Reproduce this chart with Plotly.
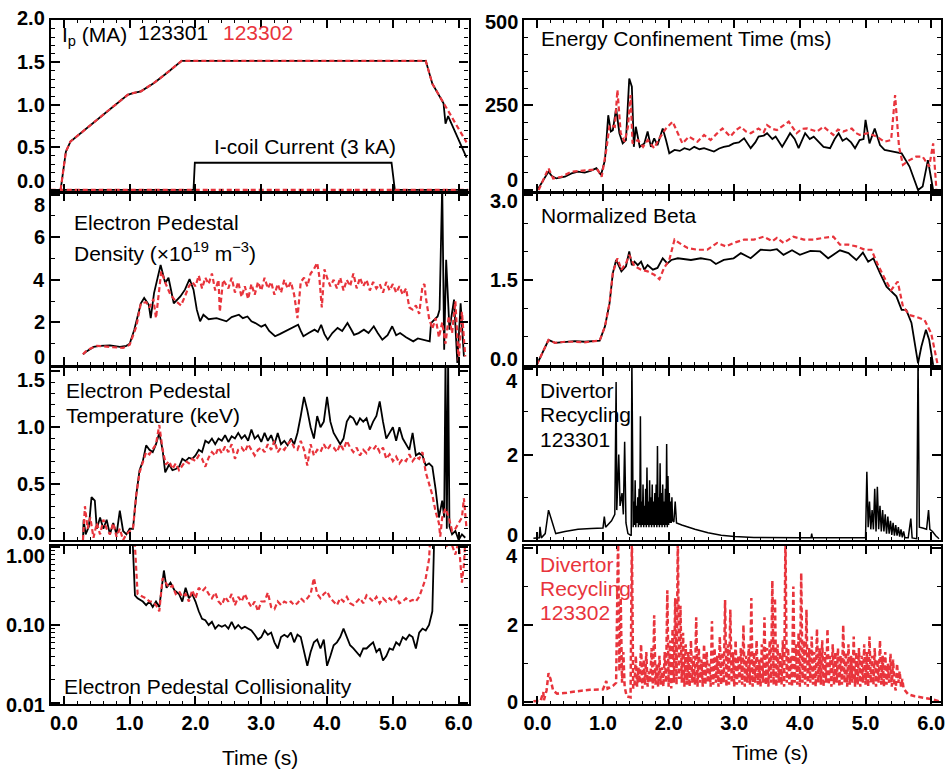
import math
import plotly.graph_objects as go

RED = "#e8343c"
BLK = "#000000"
FONT = "Liberation Sans"

# ---------------- data: (time [s], value) ----------------
IP_123301 = [(-0.05, 0.0), (0.03, 0.45), (0.1, 0.57), (0.3, 0.7), (0.5, 0.82), (0.7, 0.95), (0.97, 1.12),
             (1.05, 1.14), (1.17, 1.16), (1.37, 1.26), (1.57, 1.38), (1.79, 1.52), (2.5, 1.52), (3.5, 1.52),
             (4.5, 1.52), (5.5, 1.52), (5.6, 1.25), (5.77, 1.02), (5.8, 0.78), (5.84, 0.87), (6.12, 0.38)]
IP_123302 = [(-0.05, 0.0), (0.03, 0.45), (0.1, 0.57), (0.3, 0.7), (0.5, 0.82), (0.7, 0.95), (0.97, 1.12),
             (1.05, 1.14), (1.17, 1.16), (1.37, 1.26), (1.57, 1.38), (1.79, 1.52), (2.5, 1.52), (3.5, 1.52),
             (4.5, 1.52), (5.5, 1.52), (5.6, 1.25), (5.77, 1.02), (5.9, 0.85), (6.12, 0.56)]
ICOIL_123301 = [(-0.2, 0.0), (1.97, 0.0), (1.99, 0.32), (4.98, 0.32), (5.03, 0.0), (6.15, 0.0)]
ICOIL_123302 = [(-0.2, 0.0), (6.15, 0.0)]

NE_123301 = [(0.29, 0.5), (0.35, 0.65), (0.45, 0.85), (0.55, 0.9), (0.7, 0.92), (0.85, 0.85), (0.95, 0.9),
             (1.0, 1.0), (1.07, 1.66), (1.17, 2.9), (1.22, 3.15), (1.29, 2.83), (1.32, 2.2), (1.37, 3.38),
             (1.47, 4.7), (1.54, 3.85), (1.59, 4.1), (1.67, 2.9), (1.77, 3.22), (1.84, 3.54), (1.91, 4.04),
             (1.97, 3.54), (2.02, 2.6), (2.07, 2.05), (2.12, 2.36), (2.2, 2.15), (2.32, 2.2), (2.4, 2.1),
             (2.47, 2.05), (2.55, 2.25), (2.66, 2.36), (2.72, 2.2), (2.79, 2.28), (2.85, 2.05), (2.91, 1.97),
             (3.0, 1.8), (3.06, 1.89), (3.12, 1.6), (3.21, 1.35), (3.28, 1.45), (3.36, 1.58), (3.45, 1.7),
             (3.56, 1.89), (3.6, 1.6), (3.64, 1.35), (3.72, 1.5), (3.81, 1.66), (3.86, 1.55), (3.91, 1.89),
             (3.96, 1.45), (4.01, 1.19), (4.08, 1.5), (4.16, 1.74), (4.23, 1.6), (4.31, 1.97), (4.36, 1.7),
             (4.41, 1.42), (4.48, 1.5), (4.56, 1.66), (4.63, 1.5), (4.71, 1.82), (4.77, 1.5), (4.84, 1.19),
             (4.92, 1.4), (4.99, 1.82), (5.05, 1.4), (5.11, 1.5), (5.2, 1.3), (5.31, 1.11), (5.38, 1.25),
             (5.46, 1.19), (5.56, 1.11), (5.58, 1.97), (5.68, 2.28), (5.71, 2.6), (5.75, 8.5), (5.78, 0.72),
             (5.81, 4.94), (5.86, 1.66), (5.93, 3.07), (5.98, 0.1), (6.03, 2.9), (6.08, 0.4)]
NE_123302 = [(0.29, 0.5), (0.35, 0.7), (0.5, 0.9), (0.7, 0.85), (0.9, 0.8), (1.0, 0.95), (1.1, 1.8),
             (1.17, 2.9), (1.25, 2.95), (1.3, 2.7), (1.36, 3.1), (1.4, 2.2), (1.44, 3.2), (1.48, 4.4),
             (1.55, 3.8), (1.62, 3.3), (1.7, 3.0), (1.78, 2.8), (1.85, 3.3), (1.9, 3.7), (1.95, 3.9),
             (2.0, 3.7), (2.05, 4.2), (2.1, 3.6), (2.15, 4.1), (2.2, 3.8), (2.25, 4.3), (2.3, 3.5),
             (2.35, 4.0), (2.37, 2.5), (2.42, 4.0), (2.5, 3.6), (2.55, 4.1), (2.6, 3.4), (2.65, 3.9),
             (2.7, 3.2), (2.75, 3.7), (2.8, 3.1), (2.85, 3.8), (2.9, 3.3), (2.95, 3.9), (3.0, 3.5),
             (3.05, 4.1), (3.1, 3.6), (3.15, 3.9), (3.2, 3.3), (3.25, 3.8), (3.3, 3.4), (3.35, 4.0),
             (3.4, 3.6), (3.45, 3.9), (3.5, 3.3), (3.55, 2.2), (3.6, 3.9), (3.65, 4.1), (3.7, 3.7),
             (3.75, 4.3), (3.8, 4.5), (3.85, 4.8), (3.88, 4.2), (3.92, 2.7), (3.96, 4.5), (4.0, 4.1),
             (4.05, 3.7), (4.1, 4.0), (4.15, 3.6), (4.2, 4.1), (4.25, 3.5), (4.3, 4.0), (4.35, 3.7),
             (4.4, 4.3), (4.45, 3.6), (4.5, 4.1), (4.55, 3.7), (4.6, 4.0), (4.65, 3.5), (4.7, 3.9),
             (4.75, 3.6), (4.8, 3.8), (4.85, 3.4), (4.9, 3.9), (4.95, 3.5), (5.0, 3.8), (5.05, 3.4),
             (5.1, 3.7), (5.15, 3.3), (5.2, 3.6), (5.25, 2.7), (5.3, 2.6), (5.35, 2.8), (5.4, 2.4),
             (5.45, 3.7), (5.48, 3.8), (5.5, 3.2), (5.55, 2.2), (5.6, 1.7), (5.65, 2.2), (5.7, 1.3),
             (5.75, 2.0), (5.8, 1.0), (5.85, 2.3), (5.9, 1.5), (5.95, 3.0), (6.0, 0.2), (6.05, 2.5),
             (6.1, 0.4)]

TE_123301 = [(0.29, 0.0), (0.3, 0.18), (0.33, 0.05), (0.38, 0.12), (0.42, 0.38), (0.47, 0.35), (0.5, 0.1),
             (0.55, 0.2), (0.6, 0.1), (0.65, 0.18), (0.7, 0.05), (0.75, 0.15), (0.8, 0.05), (0.85, 0.26),
             (0.9, 0.08), (0.95, 0.05), (1.0, 0.1), (1.05, 0.1), (1.1, 0.4), (1.15, 0.62), (1.2, 0.7),
             (1.25, 0.84), (1.3, 0.8), (1.35, 0.78), (1.4, 0.85), (1.45, 0.95), (1.5, 0.8), (1.54, 0.6),
             (1.6, 0.67), (1.65, 0.62), (1.7, 0.63), (1.75, 0.65), (1.8, 0.72), (1.85, 0.7), (1.9, 0.73),
             (1.95, 0.72), (2.0, 0.75), (2.05, 0.8), (2.1, 0.78), (2.15, 0.88), (2.2, 0.86), (2.25, 0.9),
             (2.3, 0.85), (2.35, 0.9), (2.4, 0.88), (2.45, 0.93), (2.5, 0.87), (2.55, 0.92), (2.6, 0.9),
             (2.65, 0.95), (2.7, 0.9), (2.75, 0.93), (2.8, 0.88), (2.85, 0.98), (2.9, 0.9), (2.95, 0.93),
             (3.0, 0.87), (3.05, 0.95), (3.1, 0.88), (3.15, 0.93), (3.2, 0.85), (3.25, 0.95), (3.3, 0.85),
             (3.35, 0.88), (3.4, 0.84), (3.45, 0.9), (3.5, 0.85), (3.55, 0.95), (3.6, 1.1), (3.65, 1.27),
             (3.7, 1.15), (3.75, 1.0), (3.8, 0.9), (3.85, 1.1), (3.9, 1.0), (3.95, 1.05), (4.0, 1.27),
             (4.05, 1.05), (4.1, 0.95), (4.15, 0.9), (4.2, 0.85), (4.25, 0.9), (4.3, 1.05), (4.35, 1.1),
             (4.4, 1.08), (4.45, 1.02), (4.5, 1.08), (4.55, 1.05), (4.6, 1.08), (4.65, 0.98), (4.7, 1.05),
             (4.75, 1.1), (4.8, 1.23), (4.85, 1.05), (4.9, 0.9), (4.95, 0.95), (5.0, 1.0), (5.05, 0.88),
             (5.1, 1.0), (5.15, 0.9), (5.2, 0.85), (5.25, 0.8), (5.3, 0.95), (5.35, 0.75), (5.4, 0.77),
             (5.45, 0.75), (5.5, 0.66), (5.55, 0.68), (5.6, 0.65), (5.65, 0.45), (5.7, 0.2), (5.75, 0.35),
             (5.78, 0.2), (5.8, 1.6), (5.82, 0.1), (5.84, 1.6), (5.86, 0.12), (5.9, 0.05), (5.95, 0.08),
             (6.0, 0.0), (6.05, 0.05), (6.1, 0.02)]
TE_123302 = [(0.29, 0.0), (0.32, 0.3), (0.36, 0.1), (0.4, 0.2), (0.45, 0.02), (0.5, 0.15), (0.55, 0.05),
             (0.6, 0.18), (0.65, 0.1), (0.7, 0.05), (0.75, 0.15), (0.8, 0.03), (0.85, 0.1), (0.9, 0.0),
             (0.95, 0.05), (1.0, 0.08), (1.05, 0.1), (1.1, 0.4), (1.15, 0.6), (1.2, 0.7), (1.25, 0.78),
             (1.3, 0.76), (1.35, 0.8), (1.4, 0.85), (1.45, 1.02), (1.5, 0.8), (1.55, 0.67), (1.6, 0.7),
             (1.65, 0.63), (1.7, 0.68), (1.75, 0.62), (1.8, 0.66), (1.85, 0.7), (1.9, 0.68), (1.95, 0.72),
             (2.0, 0.7), (2.05, 0.75), (2.1, 0.72), (2.15, 0.65), (2.2, 0.73), (2.25, 0.78), (2.3, 0.75),
             (2.35, 0.82), (2.4, 0.77), (2.45, 0.83), (2.5, 0.78), (2.55, 0.85), (2.6, 0.72), (2.65, 0.8),
             (2.7, 0.82), (2.75, 0.78), (2.8, 0.85), (2.85, 0.8), (2.9, 0.75), (2.95, 0.8), (3.0, 0.82),
             (3.05, 0.78), (3.1, 0.85), (3.15, 0.8), (3.2, 0.88), (3.25, 0.78), (3.3, 0.82), (3.35, 0.8),
             (3.4, 0.85), (3.45, 0.88), (3.5, 0.82), (3.55, 0.8), (3.6, 0.88), (3.65, 0.8), (3.7, 0.66),
             (3.75, 0.85), (3.8, 0.75), (3.85, 0.8), (3.9, 0.78), (3.95, 0.85), (4.0, 0.8), (4.05, 0.84),
             (4.1, 0.82), (4.15, 0.78), (4.2, 0.85), (4.25, 0.8), (4.3, 0.88), (4.35, 0.82), (4.4, 0.78),
             (4.45, 0.82), (4.5, 0.75), (4.55, 0.8), (4.6, 0.77), (4.65, 0.82), (4.7, 0.8), (4.75, 0.84),
             (4.8, 0.78), (4.85, 0.82), (4.9, 0.72), (4.95, 0.76), (5.0, 0.7), (5.05, 0.74), (5.1, 0.68),
             (5.15, 0.72), (5.2, 0.7), (5.25, 0.76), (5.3, 0.7), (5.35, 0.74), (5.4, 0.72), (5.45, 0.78),
             (5.5, 0.6), (5.55, 0.5), (5.6, 0.4), (5.65, 0.25), (5.7, 0.15), (5.72, 0.03), (5.75, 0.2),
             (5.8, 0.28), (5.85, 0.2), (5.9, 0.08), (5.95, 0.1), (6.0, 0.15), (6.05, 0.2), (6.08, 0.37),
             (6.12, 0.1)]

NU_123301 = [(1.0, 3.0), (1.04, 1.5), (1.08, 0.24), (1.12, 0.22), (1.2, 0.2), (1.25, 0.18), (1.3, 0.2),
             (1.35, 0.17), (1.4, 0.2), (1.45, 0.17), (1.52, 0.5), (1.56, 0.3), (1.62, 0.35), (1.68, 0.28),
             (1.75, 0.25), (1.8, 0.2), (1.85, 0.3), (1.9, 0.22), (1.95, 0.25), (2.0, 0.2), (2.05, 0.15),
             (2.1, 0.12), (2.15, 0.115), (2.2, 0.1), (2.25, 0.11), (2.3, 0.09), (2.35, 0.1), (2.4, 0.095),
             (2.45, 0.1), (2.5, 0.09), (2.55, 0.11), (2.6, 0.09), (2.65, 0.1), (2.7, 0.09), (2.75, 0.095),
             (2.8, 0.09), (2.85, 0.085), (2.9, 0.075), (2.95, 0.065), (3.0, 0.07), (3.05, 0.085),
             (3.1, 0.075), (3.15, 0.08), (3.2, 0.06), (3.25, 0.05), (3.3, 0.07), (3.35, 0.075), (3.4, 0.07),
             (3.45, 0.08), (3.5, 0.06), (3.55, 0.075), (3.6, 0.07), (3.65, 0.045), (3.7, 0.03),
             (3.75, 0.045), (3.8, 0.06), (3.85, 0.065), (3.9, 0.05), (3.95, 0.065), (4.0, 0.03),
             (4.05, 0.04), (4.1, 0.055), (4.15, 0.06), (4.2, 0.07), (4.25, 0.09), (4.3, 0.07),
             (4.35, 0.055), (4.4, 0.05), (4.45, 0.045), (4.5, 0.04), (4.55, 0.05), (4.6, 0.05),
             (4.65, 0.055), (4.7, 0.06), (4.75, 0.045), (4.8, 0.05), (4.85, 0.035), (4.9, 0.04),
             (4.95, 0.05), (5.0, 0.048), (5.05, 0.06), (5.1, 0.055), (5.15, 0.07), (5.2, 0.065),
             (5.25, 0.075), (5.3, 0.07), (5.35, 0.05), (5.4, 0.08), (5.45, 0.09), (5.5, 0.085),
             (5.55, 0.1), (5.6, 0.15), (5.63, 1.5), (5.66, 3.0), (6.15, 3.0)]
NU_123302 = [(1.05, 3.0), (1.08, 1.0), (1.12, 0.25), (1.2, 0.23), (1.25, 0.22), (1.3, 0.2), (1.35, 0.2),
             (1.4, 0.18), (1.45, 0.15), (1.5, 0.4), (1.55, 0.35), (1.6, 0.3), (1.65, 0.32), (1.7, 0.25),
             (1.75, 0.27), (1.8, 0.23), (1.85, 0.25), (1.9, 0.2), (1.95, 0.28), (2.0, 0.22), (2.05, 0.3),
             (2.1, 0.27), (2.15, 0.3), (2.2, 0.25), (2.25, 0.22), (2.3, 0.26), (2.35, 0.2), (2.4, 0.18),
             (2.45, 0.23), (2.5, 0.2), (2.55, 0.25), (2.6, 0.18), (2.65, 0.23), (2.7, 0.2), (2.75, 0.25),
             (2.8, 0.2), (2.85, 0.17), (2.9, 0.2), (2.95, 0.15), (3.0, 0.2), (3.05, 0.2), (3.1, 0.26),
             (3.15, 0.17), (3.2, 0.16), (3.25, 0.2), (3.3, 0.18), (3.35, 0.2), (3.4, 0.19), (3.45, 0.2),
             (3.5, 0.18), (3.55, 0.19), (3.6, 0.22), (3.65, 0.2), (3.7, 0.22), (3.75, 0.25), (3.8, 0.4),
             (3.85, 0.25), (3.9, 0.22), (3.95, 0.25), (4.0, 0.27), (4.05, 0.22), (4.1, 0.2), (4.15, 0.18),
             (4.2, 0.22), (4.25, 0.2), (4.3, 0.23), (4.35, 0.19), (4.4, 0.18), (4.45, 0.2), (4.5, 0.22),
             (4.55, 0.19), (4.6, 0.24), (4.65, 0.22), (4.7, 0.2), (4.75, 0.23), (4.8, 0.19), (4.85, 0.22),
             (4.9, 0.2), (4.95, 0.22), (5.0, 0.2), (5.05, 0.23), (5.1, 0.19), (5.15, 0.2), (5.2, 0.22),
             (5.25, 0.2), (5.3, 0.21), (5.35, 0.2), (5.4, 0.23), (5.45, 0.3), (5.5, 0.4), (5.55, 0.7),
             (5.58, 2.0), (5.65, 1.2), (5.7, 1.05), (5.75, 1.1), (5.8, 1.0), (5.85, 1.1), (5.9, 1.05),
             (5.95, 0.8), (6.0, 1.2), (6.05, 0.35), (6.08, 0.6), (6.1, 1.2)]

TAUE_123301 = [(0.0, 0), (0.17, 54), (0.22, 41), (0.29, 34), (0.42, 39), (0.52, 49), (0.62, 54), (0.72, 51),
               (0.82, 57), (0.9, 64), (0.97, 44), (1.03, 88), (1.08, 220), (1.12, 172), (1.15, 176),
               (1.2, 240), (1.25, 167), (1.3, 137), (1.35, 147), (1.4, 328), (1.44, 304), (1.47, 127),
               (1.5, 186), (1.56, 127), (1.63, 137), (1.68, 172), (1.73, 127), (1.78, 152), (1.83, 132),
               (1.91, 181), (1.96, 147), (2.01, 108), (2.09, 118), (2.17, 115), (2.24, 123), (2.32, 118),
               (2.39, 127), (2.47, 120), (2.54, 123), (2.62, 118), (2.69, 113), (2.77, 122), (2.84, 127),
               (2.92, 130), (2.99, 137), (3.07, 140), (3.15, 152), (3.25, 123), (3.32, 140), (3.37, 157),
               (3.45, 160), (3.5, 167), (3.58, 150), (3.63, 157), (3.73, 127), (3.8, 150), (3.85, 167),
               (3.92, 150), (3.98, 123), (4.08, 167), (4.15, 150), (4.21, 157), (4.3, 140), (4.36, 127),
               (4.46, 123), (4.53, 150), (4.59, 167), (4.65, 145), (4.71, 152), (4.78, 140), (4.84, 123),
               (4.91, 147), (4.97, 150), (5.0, 206), (5.06, 137), (5.14, 181), (5.22, 132), (5.29, 118),
               (5.42, 113), (5.55, 108), (5.67, 69), (5.8, 0), (5.87, 10), (5.95, 88), (6.03, 0)]
TAUE_123302 = [(0.02, 0), (0.17, 64), (0.24, 34), (0.37, 39), (0.52, 54), (0.67, 57), (0.82, 59),
               (0.92, 59), (0.98, 39), (1.05, 118), (1.1, 191), (1.18, 186), (1.22, 294), (1.27, 167),
               (1.33, 142), (1.38, 186), (1.42, 279), (1.45, 137), (1.53, 147), (1.61, 127), (1.68, 147),
               (1.78, 123), (1.86, 152), (1.96, 181), (2.06, 201), (2.14, 167), (2.21, 137), (2.31, 157),
               (2.44, 142), (2.54, 162), (2.64, 147), (2.73, 165), (2.82, 181), (2.94, 157), (3.02, 175),
               (3.1, 186), (3.18, 172), (3.25, 167), (3.37, 181), (3.45, 170), (3.5, 191), (3.58, 180),
               (3.65, 176), (3.75, 190), (3.83, 201), (3.95, 167), (4.03, 180), (4.11, 181), (4.26, 172),
               (4.36, 186), (4.45, 170), (4.51, 162), (4.58, 178), (4.66, 172), (4.79, 181), (4.85, 168),
               (4.91, 162), (5.04, 167), (5.17, 157), (5.29, 142), (5.39, 147), (5.45, 279), (5.51, 127),
               (5.57, 74), (5.67, 88), (5.77, 98), (5.87, 98), (5.97, 69), (6.03, 137), (6.08, 0)]

BETAN_123301 = [(-0.01, 0.0), (0.17, 0.44), (0.27, 0.39), (0.42, 0.4), (0.57, 0.42), (0.72, 0.41),
                (0.95, 0.43), (1.03, 0.68), (1.1, 1.09), (1.15, 1.62), (1.2, 1.85), (1.28, 1.65),
                (1.35, 1.74), (1.4, 2.0), (1.44, 1.76), (1.48, 1.82), (1.53, 1.76), (1.58, 1.82),
                (1.63, 1.68), (1.68, 1.76), (1.76, 1.68), (1.83, 1.71), (1.91, 1.88), (1.98, 1.79),
                (2.04, 1.85), (2.14, 1.88), (2.24, 1.86), (2.34, 1.85), (2.49, 1.88), (2.64, 1.85),
                (2.72, 1.78), (2.84, 1.85), (2.99, 1.88), (3.1, 1.97), (3.25, 1.88), (3.4, 2.03),
                (3.55, 2.02), (3.65, 2.04), (3.75, 1.94), (3.88, 2.02), (4.0, 1.94), (4.16, 2.01),
                (4.31, 2.0), (4.43, 1.88), (4.61, 2.02), (4.74, 1.97), (4.86, 1.85), (4.96, 1.98),
                (5.04, 1.82), (5.12, 1.88), (5.22, 1.62), (5.32, 1.38), (5.47, 1.21), (5.55, 0.97),
                (5.62, 0.97), (5.7, 0.74), (5.8, 0.03), (5.85, 0.32), (5.92, 0.62), (5.97, 0.44), (6.03, 0.0)]
BETAN_123302 = [(-0.01, 0.0), (0.17, 0.44), (0.27, 0.39), (0.42, 0.41), (0.57, 0.41), (0.72, 0.4),
                (0.95, 0.43), (1.03, 0.68), (1.1, 1.09), (1.15, 1.62), (1.22, 1.88), (1.28, 1.68),
                (1.35, 1.79), (1.4, 1.94), (1.48, 1.74), (1.58, 1.68), (1.68, 1.65), (1.78, 1.59),
                (1.86, 1.51), (1.93, 1.71), (2.01, 1.85), (2.09, 2.21), (2.16, 2.15), (2.29, 2.06),
                (2.44, 2.03), (2.59, 2.03), (2.74, 2.15), (2.87, 2.09), (2.99, 2.15), (3.15, 2.21),
                (3.3, 2.21), (3.45, 2.26), (3.58, 2.18), (3.65, 2.24), (3.75, 2.15), (3.9, 2.26),
                (4.06, 2.21), (4.21, 2.21), (4.36, 2.24), (4.51, 2.26), (4.61, 2.12), (4.74, 2.12),
                (4.86, 2.09), (4.99, 2.03), (5.09, 2.03), (5.19, 1.76), (5.29, 1.53), (5.39, 1.32),
                (5.49, 1.47), (5.57, 1.03), (5.67, 0.88), (5.77, 0.85), (5.9, 0.79), (6.0, 0.56), (6.1, 0.0)]

# divertor recycling 123301: slow parts as (t, v); ELM bursts as evenly sampled values (t0, dt, values)
RECYC_123301_A = [(-0.06, 0.04), (0.03, 0.05), (0.04, 0.31), (0.06, 0.05), (0.12, 0.15), (0.17, 0.7),
                  (0.22, 0.45), (0.28, 0.15), (0.42, 0.2), (0.62, 0.25), (0.82, 0.27), (1.0, 0.28),
                  (1.02, 0.55), (1.04, 0.3), (1.13, 0.45), (1.18, 0.6), (1.2, 3.7), (1.21, 0.7),
                  (1.24, 2.0), (1.26, 0.8), (1.29, 1.1), (1.31, 0.6), (1.33, 2.3), (1.35, 0.4),
                  (1.38, 0.15), (1.43, 0.1), (1.44, 4.3), (1.45, 0.3)]
RECYC_123301_BURST1_T0, RECYC_123301_BURST1_DT = 1.46, 0.01
RECYC_123301_BURST1 = [0.3, 0.9, 0.35, 1.4, 0.3, 0.8, 0.4, 1.0, 0.3, 1.2,
                       0.35, 2.9, 0.3, 0.9, 0.35, 1.3, 0.3, 0.8, 0.35, 1.2,
                       0.3, 1.7, 0.35, 0.9, 0.3, 1.4, 0.35, 1.0, 0.3, 1.3,
                       0.35, 0.9, 0.3, 1.1, 0.35, 1.3, 0.3, 2.2, 0.35, 1.0,
                       0.3, 1.8, 0.35, 1.1, 0.3, 1.3, 0.35, 0.9, 0.3, 1.2,
                       0.35, 2.25, 0.3, 1.5, 0.35, 1.1, 0.4, 0.9, 0.4, 1.0,
                       0.45]
RECYC_123301_B = [(2.08, 0.42), (2.1, 0.9), (2.12, 0.4), (2.2, 0.35), (2.4, 0.25), (2.6, 0.17), (2.8, 0.11),
                  (3.0, 0.08), (3.3, 0.06), (3.6, 0.05), (4.0, 0.05), (4.17, 0.05), (4.18, 0.15),
                  (4.19, 0.05), (4.5, 0.05), (5.0, 0.05)]
RECYC_123301_BURST2_T0, RECYC_123301_BURST2_DT = 5.02, 0.02
RECYC_123301_BURST2 = [1.6, 0.3, 0.9, 0.25, 0.7, 0.25, 1.2, 0.2, 1.25, 0.25, 0.8, 0.2, 0.7, 0.2, 0.6, 0.15,
                       0.55, 0.15, 0.45, 0.12, 0.4, 0.1, 0.35, 0.1, 0.3, 0.08, 0.25, 0.06, 0.2, 0.05]
RECYC_123301_C = [(5.65, 0.05), (5.69, 0.5), (5.71, 0.05), (5.78, 0.03), (5.8, 4.3), (5.82, 0.3),
                  (5.87, 0.28), (5.93, 0.25), (5.96, 0.7), (5.98, 0.25), (6.02, 0.2), (6.07, 0.1), (6.12, 0.03)]

RECYC_123302_A = [(-0.06, 0.02), (0.05, 0.03), (0.09, 0.26), (0.1, 0.05), (0.14, 0.3), (0.17, 0.75),
                  (0.2, 0.6), (0.24, 0.3), (0.3, 0.22), (0.45, 0.24), (0.6, 0.28), (0.8, 0.32), (1.0, 0.33),
                  (1.05, 0.55), (1.07, 0.35), (1.15, 0.42), (1.2, 0.5), (1.23, 4.3), (1.25, 0.8),
                  (1.27, 2.7), (1.29, 0.5), (1.31, 1.3), (1.33, 0.4), (1.36, 0.15), (1.42, 0.12),
                  (1.44, 4.3), (1.46, 0.35)]
RECYC_123302_BURST_T0, RECYC_123302_BURST_DT = 1.48, 0.02
RECYC_123302_BURST = [
    0.45, 1.2, 0.4, 0.9, 0.5, 1.5, 0.35, 1.1, 0.45, 1.3,
    0.4, 0.8, 0.5, 1.4, 0.35, 2.25, 0.45, 1.0, 0.4, 1.2,
    0.45, 0.9, 0.4, 1.3, 0.5, 2.9, 0.4, 1.6, 0.35, 1.9,
    0.5, 2.7, 0.45, 4.3, 0.6, 2.5, 0.5, 1.8, 0.4, 1.5,
    0.45, 1.3, 0.4, 1.6, 0.5, 1.2, 0.45, 2.2, 0.4, 1.4,
    0.5, 1.1, 0.4, 1.5, 0.45, 1.3, 0.5, 1.0, 0.4, 2.1,
    0.45, 1.4, 0.5, 1.2, 0.4, 1.7, 0.45, 1.3, 0.5, 2.65,
    0.4, 1.5, 0.45, 2.4, 0.5, 1.3, 0.4, 1.6, 0.45, 1.2,
    0.5, 1.4, 0.45, 2.0, 0.4, 1.2, 0.5, 1.5, 0.45, 2.7,
    0.4, 1.3, 0.5, 1.6, 0.45, 1.1, 0.4, 1.5, 0.5, 2.2,
    0.45, 1.4, 0.4, 1.6, 0.5, 3.15, 0.45, 2.7, 0.4, 1.5,
    0.5, 1.3, 0.45, 1.6, 0.4, 4.3, 0.5, 1.4, 0.45, 1.2,
    0.4, 3.0, 0.5, 1.5, 0.45, 1.8, 0.4, 3.35, 0.5, 1.6,
    0.45, 2.4, 0.4, 1.4, 0.5, 1.7, 0.45, 1.3, 0.4, 1.9,
    0.5, 1.4, 0.45, 1.6, 0.4, 1.3, 0.5, 1.9, 0.45, 1.2,
    0.4, 1.5, 0.45, 1.3, 0.5, 1.4, 0.4, 1.2, 0.45, 2.0,
    0.5, 1.3, 0.4, 1.5, 0.45, 1.2, 0.5, 1.7, 0.4, 1.3,
    0.45, 1.4, 0.4, 1.2, 0.5, 1.5, 0.45, 1.3, 0.4, 1.7,
    0.5, 1.2, 0.45, 1.4, 0.4, 1.1, 0.5, 1.6, 0.45, 1.2,
    0.4, 1.3, 0.45, 1.0, 0.5, 1.25, 0.4, 1.1, 0.45]
RECYC_123302_B = [(5.46, 0.3), (5.48, 1.0), (5.5, 0.5), (5.52, 0.8), (5.54, 0.4), (5.56, 0.6), (5.58, 0.35),
                  (5.6, 0.3), (5.65, 0.2), (5.75, 0.15), (5.9, 0.1), (6.0, 0.08), (6.12, 0.02)]

X_TICKS = [0, 1, 2, 3, 4, 5, 6]
X_TICK_TEXT = ["0.0", "1.0", "2.0", "3.0", "4.0", "5.0", "6.0"]


def unzip(pairs):
    return [p[0] for p in pairs], [p[1] for p in pairs]


def burst(t0, dt, vals):
    return [(round(t0 + i * dt, 4), v) for i, v in enumerate(vals)]


RECYC_123301 = (RECYC_123301_A
                + burst(RECYC_123301_BURST1_T0, RECYC_123301_BURST1_DT, RECYC_123301_BURST1)
                + RECYC_123301_B
                + burst(RECYC_123301_BURST2_T0, RECYC_123301_BURST2_DT, RECYC_123301_BURST2)
                + RECYC_123301_C)
RECYC_123302 = (RECYC_123302_A
                + burst(RECYC_123302_BURST_T0, RECYC_123302_BURST_DT, RECYC_123302_BURST)
                + RECYC_123302_B)

# ---------------- layout geometry ----------------
W, H = 949, 776
COLX = {"L": (50, 470), "R": (526, 945)}
ROWY = [(20, 192), (193, 365), (368, 540), (546, 704)]

PANELS = [
    dict(col="L", row=0, yr=[-0.024, 2.0], log=False, tv=[0, 0.5, 1.0, 1.5, 2.0],
         tl=["0.0", "0.5", "1.0", "1.5", "2.0"], sh=[-9, 0, 0, 0, -2], minor=dict(dtick=0.1)),
    dict(col="R", row=0, yr=[-5.9, 500], log=False, tv=[0, 250, 500],
         tl=["0", "250", "500"], sh=[-10, 0, 2], minor=dict(dtick=50)),
    dict(col="L", row=1, yr=[0, 8.08], log=False, tv=[0, 2, 4, 6, 8],
         tl=["0", "2", "4", "6", "8"], sh=[-8, 0, 0, 0, 10], minor=dict(dtick=1)),
    dict(col="R", row=1, yr=[0, 3.03], log=False, tv=[0, 1.5, 3.0],
         tl=["0.0", "1.5", "3.0"], sh=[-6, 0, 6], minor=dict(dtick=0.5)),
    dict(col="L", row=2, yr=[0, 1.526], log=False, tv=[0, 0.5, 1.0, 1.5],
         tl=["0.0", "0.5", "1.0", "1.5"], sh=[-7, 0, 0, 9], minor=dict(dtick=0.1)),
    dict(col="R", row=2, yr=[0, 4.03], log=False, tv=[0, 2, 4],
         tl=["0", "2", "4"], sh=[-5, 0, 12], minor=dict(dtick=1)),
    dict(col="L", row=3, yr=[-2.013, 0.013], log=True, tv=[0.01, 0.1, 1.0],
         tl=["0.01", "0.10", "1.00"], sh=[2, 0, 9],
         minor=dict(tickmode="array", tickvals=[0.02, 0.03, 0.04, 0.05, 0.06, 0.07, 0.08, 0.09,
                                                0.2, 0.3, 0.4, 0.5, 0.6, 0.7, 0.8, 0.9])),
    dict(col="R", row=3, yr=[-0.05, 4.05], log=False, tv=[0, 2, 4],
         tl=["0", "2", "4"], sh=[0, 0, 8], minor=dict(dtick=1)),
]

SERIES = [
    (0, ICOIL_123301, BLK, 1.8), (0, IP_123301, BLK, 1.8), (0, ICOIL_123302, RED, 2.2), (0, IP_123302, RED, 2.2),
    (1, TAUE_123301, BLK, 1.8), (1, TAUE_123302, RED, 2.2),
    (2, NE_123301, BLK, 1.8), (2, NE_123302, RED, 2.2),
    (3, BETAN_123301, BLK, 1.8), (3, BETAN_123302, RED, 2.2),
    (4, TE_123301, BLK, 1.8), (4, TE_123302, RED, 2.2),
    (5, RECYC_123301, BLK, 1.5),
    (6, NU_123301, BLK, 1.8), (6, NU_123302, RED, 2.2),
    (7, RECYC_123302, RED, 2.5),
]

fig = go.Figure()
for idx, data, color, lw in SERIES:
    t, v = unzip(data)
    n = idx + 1
    line = dict(color=color, width=lw) if color == BLK else dict(color=color, width=lw, dash="5px,3px")
    fig.add_trace(go.Scatter(x=t, y=v, mode="lines", line=line, xaxis=f"x{n}", yaxis=f"y{n}",
                             showlegend=False, hoverinfo="skip"))

annotations = []
layout = dict(width=W, height=H, autosize=False, margin=dict(l=0, r=0, t=0, b=0),
              paper_bgcolor="white", plot_bgcolor="white", showlegend=False)

for i, p in enumerate(PANELS):
    n = i + 1
    x0, x1 = COLX[p["col"]]
    y0, y1 = ROWY[p["row"]]
    bottom = p["row"] == 3
    xa = dict(domain=[x0 / W, x1 / W], range=[-0.2, 6.15], anchor=f"y{n}",
              showline=True, linecolor="black", linewidth=2.2, mirror="ticks",
              ticks="inside", ticklen=8, tickwidth=2, tickcolor="black",
              tickmode="array", tickvals=X_TICKS, ticktext=X_TICK_TEXT,
              showticklabels=bottom, showgrid=False, zeroline=False,
              tickfont=dict(family=FONT, size=20, color="black", weight="bold"),
              minor=dict(ticks="inside", ticklen=3, tickwidth=1.2, tickcolor="black", dtick=0.2,
                         tick0=0, showgrid=False))
    mn = dict(ticks="inside", ticklen=4, tickwidth=1.4, tickcolor="black", showgrid=False)
    mn.update(p["minor"])
    ya = dict(domain=[1 - y1 / H, 1 - y0 / H], range=p["yr"], anchor=f"x{n}",
              type="log" if p["log"] else "linear",
              showline=True, linecolor="black", linewidth=2.2, mirror="ticks",
              ticks="inside", ticklen=9, tickwidth=2, tickcolor="black",
              tickmode="array", tickvals=p["tv"], showticklabels=False,
              showgrid=False, zeroline=False, minor=mn)
    layout[f"xaxis{n}"] = xa
    layout[f"yaxis{n}"] = ya
    for val, lab, s in zip(p["tv"], p["tl"], p["sh"]):
        annotations.append(dict(xref="paper", x=x0 / W, xanchor="right", xshift=-4,
                                yref=f"y{n}", y=(math.log10(val) if p["log"] else val),
                                yanchor="middle", yshift=-s, text=f"<b>{lab}</b>", showarrow=False,
                                font=dict(family=FONT, size=20, color="black")))


def label(text, xpx, ypx, color=BLK, anchor="left", size=21):
    annotations.append(dict(xref="paper", yref="paper", x=xpx / W, y=1 - ypx / H, xanchor=anchor,
                            yanchor="middle", text=text, showarrow=False,
                            font=dict(family=FONT, size=size, color=color)))


label("I<sub>p</sub> (MA)", 59, 36)
label("123301", 136, 33)
label("123302", 221, 33, RED)
label("I-coil Current (3 kA)", 306, 146, anchor="center")
label("Electron Pedestal", 71, 223)
label("Density (×10<sup>19</sup> m<sup>−3</sup>)", 71, 252)
label("Electron Pedestal", 63, 390)
label("Temperature (keV)", 63, 415)
label("Electron Pedestal Collisionality", 61, 686)
label("Energy Confinement Time (ms)", 541, 38)
label("Normalized Beta", 541, 215)
label("Divertor", 540, 390)
label("Recycling", 540, 414)
label("123301", 540, 439)
label("Divertor", 540, 564, RED)
label("Recycling", 540, 588, RED)
label("123302", 540, 612, RED)
label("Time (s)", 260, 757, anchor="center")
label("Time (s)", 773, 752, anchor="center")

layout["annotations"] = annotations
fig.update_layout(**layout)
fig.write_html("out.html")
